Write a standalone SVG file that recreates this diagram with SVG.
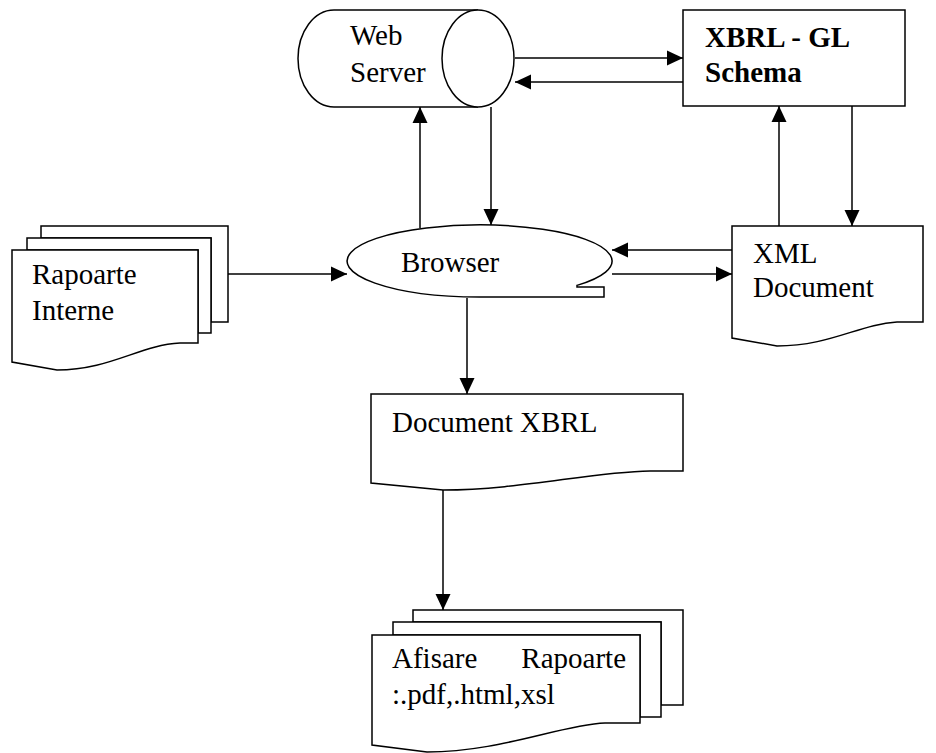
<svg xmlns="http://www.w3.org/2000/svg" width="936" height="753" viewBox="0 0 936 753">
<style>
.s{fill:#fff;stroke:#000;stroke-width:1.5}
.c{fill:none;stroke:#000;stroke-width:1.5}
text{font-family:"Liberation Serif","Times New Roman",serif;font-size:29px;fill:#000}
.b{font-weight:bold}
</style>
<defs>
<marker id="ah" markerUnits="userSpaceOnUse" markerWidth="17" markerHeight="17" viewBox="0 0 17 17" refX="16" refY="8.5" orient="auto">
<path d="M0,1 L16,8.5 L0,16 Z" fill="#000"/>
</marker>
</defs>
<rect width="936" height="753" fill="#fff"/>
<g id="webserver">
<path class="s" d="M478,10 H334 A36,48.5 0 0 0 334,107 H478"/>
<ellipse class="s" cx="478" cy="58.5" rx="36" ry="48.5"/>
<text x="350" y="45">Web</text>
<text x="350" y="82">Server</text>
</g>
<g id="xbrlgl">
<rect class="s" x="683" y="10" width="222" height="96"/>
<text class="b" x="705" y="47">XBRL - GL</text>
<text class="b" x="705" y="82">Schema</text>
</g>
<g id="browser">
<path class="s" d="M577,285.4 A132.5,36 0 1 0 479.5,297 H604 V287 H577 Z"/>
<text x="401" y="272">Browser</text>
</g>
<g id="xmldoc">
<path class="s" d="M732,226 H923 V322 H897 C860,324 830,346 777,346 L732,338 Z"/>
<text x="753" y="263">XML</text>
<text x="753" y="297">Document</text>
</g>
<g id="rapoarte">
<path class="s" d="M41,226 H228 V322 H211 V238 H41 Z"/>
<path class="s" d="M27,238 H211 V333 H198 V250 H27 Z"/>
<path class="s" d="M12,250 H198 V343 H180 C140,345 110,370 57,370 L12,362 Z"/>
<text x="32" y="284">Rapoarte</text>
<text x="32" y="320">Interne</text>
</g>
<g id="docxbrl">
<path class="s" d="M371,394 H683 V471 H650 C590,472 520,490 443,490 L371,483 Z"/>
<text x="392" y="432">Document XBRL</text>
</g>
<g id="afisare">
<path class="s" d="M413,610 H683 V705 H661 V622 H413 Z"/>
<path class="s" d="M393,622 H661 V717 H640 V635 H393 Z"/>
<path class="s" d="M372,635 H640 V723 H605 C560,725 500,752 427,752 L372,745 Z"/>
<text x="392" y="668">Afisare</text>
<text x="626" y="668" text-anchor="end">Rapoarte</text>
<text x="392" y="704">:.pdf,.html,xsl</text>
</g>
<g id="connectors" class="c" marker-end="url(#ah)">
<line x1="515" y1="58" x2="683" y2="58"/>
<line x1="683" y1="82" x2="515" y2="82"/>
<line x1="420" y1="228" x2="420" y2="107"/>
<line x1="491" y1="107" x2="491" y2="225"/>
<line x1="852" y1="106" x2="852" y2="226"/>
<line x1="779" y1="226" x2="779" y2="106"/>
<line x1="732" y1="250" x2="612" y2="250"/>
<line x1="612" y1="274" x2="732" y2="274"/>
<line x1="228" y1="274" x2="347" y2="274"/>
<line x1="467" y1="298" x2="467" y2="394"/>
<line x1="443" y1="490" x2="443" y2="610"/>
</g>
</svg>
